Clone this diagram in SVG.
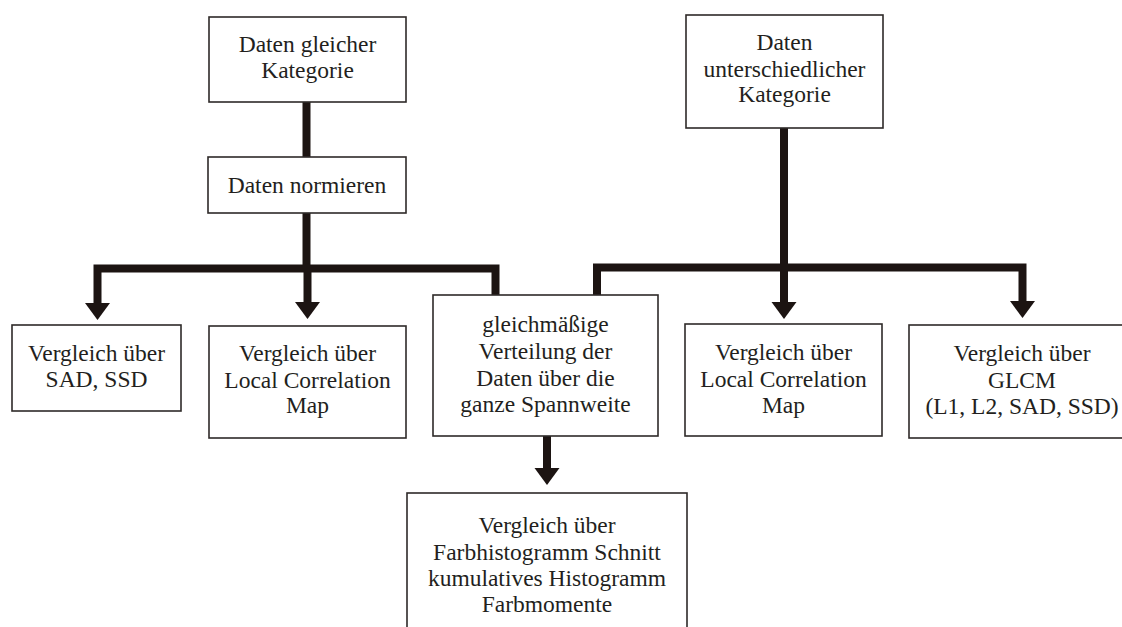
<svg xmlns="http://www.w3.org/2000/svg" width="1122" height="627" viewBox="0 0 1122 627">
  <style>
    .box { fill: #ffffff; stroke: #2e2a28; stroke-width: 1.6; }
    .lbl { font-family: 'Liberation Serif', 'DejaVu Serif', 'Times New Roman', serif; font-size: 23.5px; fill: #231f1d; text-anchor: middle; }
    .conn { fill: none; stroke: #1c1412; stroke-width: 8; stroke-linejoin: miter; stroke-linecap: butt; }
    .arr { marker-end: url(#head); }
  </style>
  <defs>
    <marker id="head" markerUnits="userSpaceOnUse" viewBox="0 -13 18 26" refX="0" refY="0" markerWidth="18" markerHeight="26" orient="auto" overflow="visible">
      <path d="M0,-12.5 L17,0 L0,12.5 Z" fill="#1c1412"/>
    </marker>
  </defs>
  <rect width="1122" height="627" fill="#ffffff"/>

  <g id="connectors">
    <path class="conn" d="M306.5,102 V157"/>
    <path class="conn" d="M306.5,213 V268.5"/>
    <path class="conn arr" d="M495.5,295 V268.5 H97.5 V303"/>
    <path class="conn arr" d="M307.5,268.5 V302"/>
    <path class="conn arr" d="M784,128 V302"/>
    <path class="conn arr" d="M597,295 V267.5 H1022.5 V301"/>
    <path class="conn arr" d="M547,436 V468"/>
  </g>

  <g font-family="Liberation Serif, serif">
  <g id="n-gleich-kat">
    <rect class="box" x="209" y="17" width="197" height="85"/>
    <text class="lbl" x="307.5" y="52">Daten gleicher</text>
    <text class="lbl" x="307.5" y="78">Kategorie</text>
  </g>

  <g id="n-normieren">
    <rect class="box" x="208" y="157" width="198" height="56"/>
    <text class="lbl" x="307" y="193">Daten normieren</text>
  </g>

  <g id="n-unterschiedl-kat">
    <rect class="box" x="686" y="15" width="197" height="113"/>
    <text class="lbl" x="784.5" y="50">Daten</text>
    <text class="lbl" x="784.5" y="77">unterschiedlicher</text>
    <text class="lbl" x="784.5" y="102">Kategorie</text>
  </g>

  <g id="n-sad-ssd">
    <rect class="box" x="12" y="325" width="169" height="86"/>
    <text class="lbl" x="96.5" y="361">Vergleich über</text>
    <text class="lbl" x="96.5" y="387">SAD, SSD</text>
  </g>

  <g id="n-lcm-left">
    <rect class="box" x="209" y="326" width="197" height="112"/>
    <text class="lbl" x="307.5" y="361">Vergleich über</text>
    <text class="lbl" x="307.5" y="388">Local Correlation</text>
    <text class="lbl" x="307.5" y="413">Map</text>
  </g>

  <g id="n-gleichmaessig">
    <rect class="box" x="433" y="295" width="225" height="141"/>
    <text class="lbl" x="545.5" y="332">gleichmäßige</text>
    <text class="lbl" x="545.5" y="359">Verteilung der</text>
    <text class="lbl" x="545.5" y="386">Daten über die</text>
    <text class="lbl" x="545.5" y="412">ganze Spannweite</text>
  </g>

  <g id="n-lcm-right">
    <rect class="box" x="685" y="324" width="197" height="112"/>
    <text class="lbl" x="783.5" y="360">Vergleich über</text>
    <text class="lbl" x="783.5" y="387">Local Correlation</text>
    <text class="lbl" x="783.5" y="413">Map</text>
  </g>

  <g id="n-glcm">
    <rect class="box" x="909" y="325" width="240" height="113"/>
    <text class="lbl" x="1022" y="361">Vergleich über</text>
    <text class="lbl" x="1022" y="388">GLCM</text>
    <text class="lbl" x="1022" y="414">(L1, L2, SAD, SSD)</text>
  </g>

  <g id="n-farbhist">
    <rect class="box" x="407" y="493" width="280" height="200"/>
    <text class="lbl" x="547" y="533">Vergleich über</text>
    <text class="lbl" x="547" y="560">Farbhistogramm Schnitt</text>
    <text class="lbl" x="547" y="586">kumulatives Histogramm</text>
    <text class="lbl" x="547" y="612">Farbmomente</text>
  </g>
  </g>
</svg>
